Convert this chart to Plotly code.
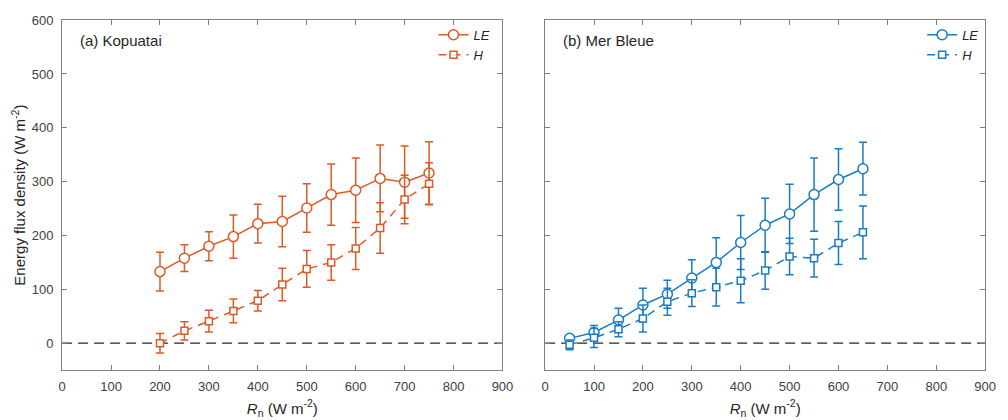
import plotly.graph_objects as go

# ---------------- data ----------------
rn_a = [200, 250, 300, 350, 400, 450, 500, 550, 600, 650, 700, 750]
le_a = [133, 158, 180, 198, 222, 226, 251, 276, 284, 306, 299, 316]
le_a_err = [36, 25, 27, 40, 36, 47, 45, 57, 60, 62, 67, 58]
h_a = [0, 23, 41, 60, 79, 109, 138, 150, 176, 214, 267, 296]
h_a_err = [18, 17, 20, 22, 19, 30, 34, 33, 39, 47, 45, 39]

rn_b = [50, 100, 150, 200, 250, 300, 350, 400, 450, 500, 550, 600, 650]
le_b = [9, 20, 43, 71, 91, 121, 150, 187, 219, 240, 276, 304, 324]
le_b_err = [6, 13, 22, 31, 26, 34, 46, 50, 50, 55, 68, 57, 49]
h_b = [-3, 10, 26, 46, 77, 93, 104, 116, 135, 161, 158, 186, 206]
h_b_err = [9, 18, 14, 25, 25, 25, 35, 41, 35, 34, 35, 40, 49]

x_ticks = [0, 100, 200, 300, 400, 500, 600, 700, 800, 900]
y_ticks = [0, 100, 200, 300, 400, 500, 600]

ORANGE = "#DC5A24"
BLUE = "#1A7CC4"
FONT = "Liberation Sans, Arial, sans-serif"

fig = go.Figure()


def add_series(x, y, err, color, name, symbol, size, dash, xa, ya, legend):
    fig.add_trace(go.Scatter(
        x=x, y=y, name=name, mode="lines+markers",
        line=dict(color=color, width=1.5, dash=dash),
        marker=dict(symbol=symbol, size=size, color="white",
                    line=dict(color=color, width=1.5)),
        error_y=dict(type="data", array=err, visible=True, color=color,
                     thickness=1.5, width=4),
        xaxis=xa, yaxis=ya, legend=legend,
    ))


add_series(rn_a, le_a, le_a_err, ORANGE, "<i>LE</i>", "circle", 10, "solid", "x", "y", "legend")
add_series(rn_a, h_a, h_a_err, ORANGE, "<i>H</i>", "square", 7, "8px,6px", "x", "y", "legend")
add_series(rn_b, le_b, le_b_err, BLUE, "<i>LE</i>", "circle", 10, "solid", "x2", "y2", "legend2")
add_series(rn_b, h_b, h_b_err, BLUE, "<i>H</i>", "square", 7, "8px,6px", "x2", "y2", "legend2")

W, H = 1008, 420
dom_y = [1 - 369.3 / H, 1 - 13.3 / H]

axis_common = dict(
    range=[0, 900], tickvals=x_ticks, ticks="inside", ticklen=5, tickcolor="#808080",
    showline=True, linecolor="#808080", linewidth=1, mirror="ticks",
    showgrid=False, zeroline=False, ticklabelstandoff=4,
    tickfont=dict(family=FONT, size=13, color="#404040"),
)
yaxis_common = dict(
    range=[-50, 600], tickvals=y_ticks, ticks="inside", ticklen=5, tickcolor="#808080",
    showline=True, linecolor="#808080", linewidth=1, mirror="ticks",
    showgrid=False, zeroline=False, ticklabelstandoff=5,
    tickfont=dict(family=FONT, size=13, color="#404040"),
    domain=dom_y,
)

xtitle = "<i>R</i><sub>n</sub> (W m<sup>-2</sup>)"

fig.update_layout(
    width=W, height=H,
    margin=dict(l=0, r=0, t=0, b=0),
    paper_bgcolor="white", plot_bgcolor="white",
    font=dict(family=FONT, color="#262626"),
    xaxis=dict(axis_common, domain=[59 / W, 506 / W], anchor="y",
               title=dict(text=xtitle, font=dict(size=15, color="#262626"), standoff=10)),
    yaxis=dict(yaxis_common, anchor="x",
               title=dict(text="Energy flux density (W m<sup>-2</sup>)",
                          font=dict(size=15, color="#262626"), standoff=2)),
    xaxis2=dict(axis_common, domain=[549.3 / W, 996 / W], anchor="y2",
                title=dict(text=xtitle, font=dict(size=15, color="#262626"), standoff=10)),
    yaxis2=dict(yaxis_common, anchor="x2", showticklabels=False),
    legend=dict(x=436 / W, y=1 - 13 / H, xanchor="left", yanchor="top",
                bgcolor="rgba(0,0,0,0)", font=dict(family=FONT, size=13, color="#262626"),
                tracegroupgap=0, itemwidth=30),
    legend2=dict(x=932 / W, y=1 - 13 / H, xanchor="left", yanchor="top",
                 bgcolor="rgba(0,0,0,0)", font=dict(family=FONT, size=13, color="#262626"),
                 tracegroupgap=0, itemwidth=30),
    showlegend=True,
    shapes=[
        dict(type="line", xref="x domain", yref="y", x0=0, x1=1, y0=0, y1=0,
             line=dict(color="#262626", width=1.2, dash="10px,6px"), layer="below"),
        dict(type="line", xref="x2 domain", yref="y2", x0=0, x1=1, y0=0, y1=0,
             line=dict(color="#262626", width=1.2, dash="10px,6px"), layer="below"),
    ],
    annotations=[
        dict(text="(a) Kopuatai", xref="x domain", yref="y domain", x=0.036, y=0.942,
             xanchor="left", yanchor="middle", showarrow=False,
             font=dict(family=FONT, size=15, color="#262626")),
        dict(text="(b) Mer Bleue", xref="x2 domain", yref="y2 domain", x=0.036, y=0.942,
             xanchor="left", yanchor="middle", showarrow=False,
             font=dict(family=FONT, size=15, color="#262626")),
    ],
)

fig.write_html("out.html")
